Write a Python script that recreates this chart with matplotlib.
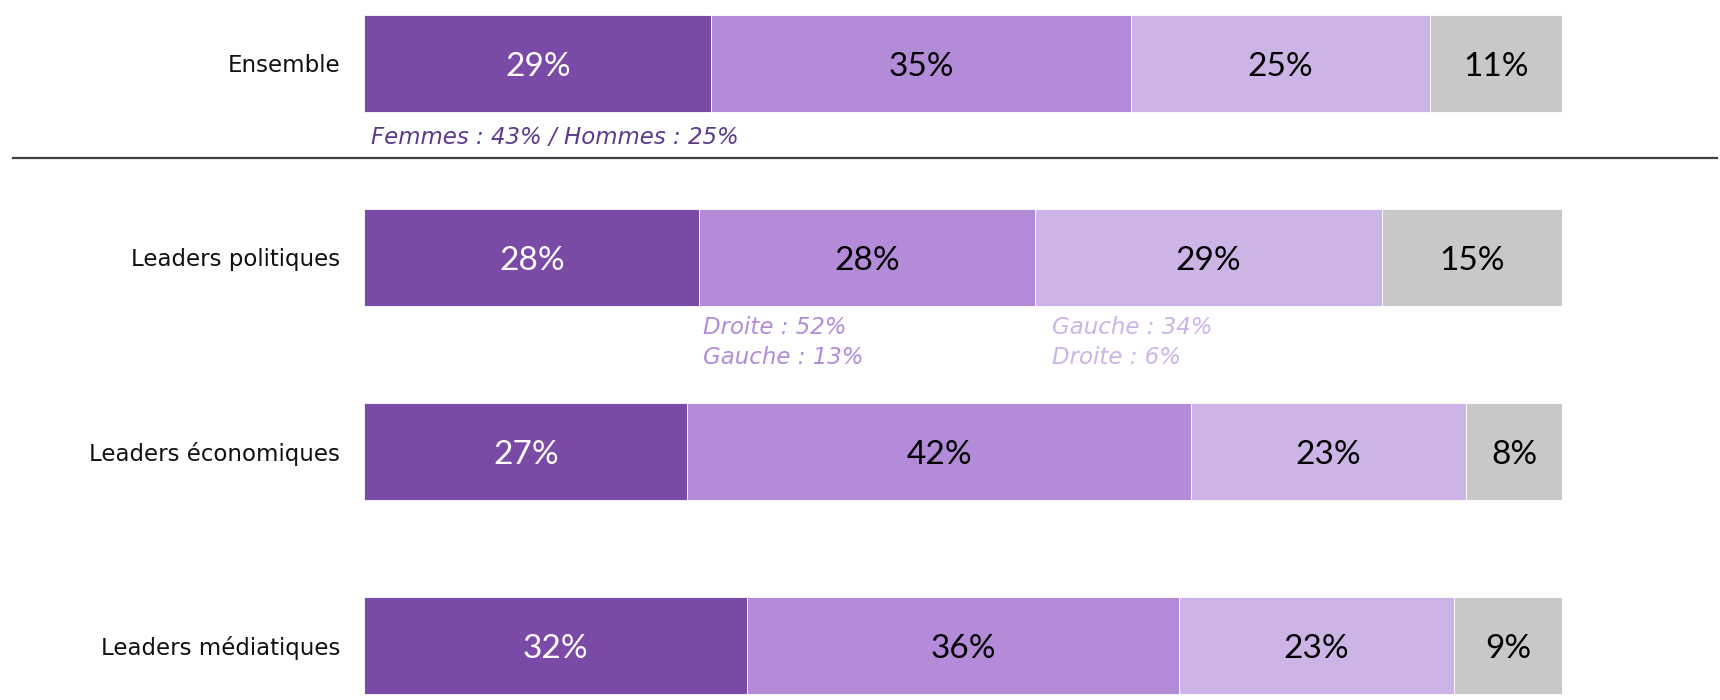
import numpy as np
import matplotlib
matplotlib.use('Agg')
import matplotlib.pyplot as plt
from matplotlib.lines import Line2D

# %% Data
categories = ['Ensemble', 'Leaders politiques', 'Leaders économiques', 'Leaders médiatiques']
seg1 = [29, 28, 27, 32]
seg2 = [35, 28, 42, 36]
seg3 = [25, 29, 23, 23]
seg4 = [11, 15, 8, 9]

colors = ['#7B4AA6', '#B38BD9', '#CDB4E6', '#C8C8C8']
txtcolors = ['white', 'black', 'black', 'black']

plt.rcParams['font.family'] = ['DejaVu Sans']

# %% Figure
fig = plt.figure(figsize=(17.2, 7.0), dpi=100)
ax = fig.add_axes([364/1720, 0, (1562-364)/1720, 1])

ypos = np.arange(len(categories))
segs = [seg1, seg2, seg3, seg4]
left = np.zeros(len(categories))
for k, vals in enumerate(segs):
    vals = np.array(vals, dtype=float)
    ax.barh(ypos, vals, left=left, height=0.5, color=colors[k],
            edgecolor='white', linewidth=0.6)
    for i, v in enumerate(vals):
        ax.text(left[i] + v/2, ypos[i] + 0.02, '%d%%' % v, ha='center', va='center',
                fontsize=24, color=txtcolors[k], family=['Lato', 'DejaVu Sans'])
    left += vals

for i, c in enumerate(categories):
    ax.text(-2.0, ypos[i] + 0.015, c, ha='right', va='center', fontsize=16.5, color='#111111')

# annotations
ax.text(0.6, 0.385, 'Femmes : 43% / Hommes : 25%', ha='left', va='center',
        fontsize=16.5, style='italic', color='#5E3A8C')
ax.text(seg1[1] + 0.3, 1 + 0.44, 'Droite : 52%\nGauche : 13%', ha='left', va='center',
        fontsize=16.5, style='italic', color='#B38BD9', linespacing=1.4)
ax.text(seg1[1] + seg2[1] + 1.4, 1 + 0.44, 'Gauche : 34%\nDroite : 6%', ha='left', va='center',
        fontsize=16.5, style='italic', color='#CDB4E6', linespacing=1.4)

ax.set_xlim(0, 100)
ax.set_ylim(3 + 55/194, -63/194)
ax.axis('off')

# separator line
fig.add_artist(Line2D([13/1720, 1717/1720], [1 - 158/700, 1 - 158/700],
                      color='#404040', linewidth=1.6))

fig.savefig('out.png', dpi=100)
plt.close()
